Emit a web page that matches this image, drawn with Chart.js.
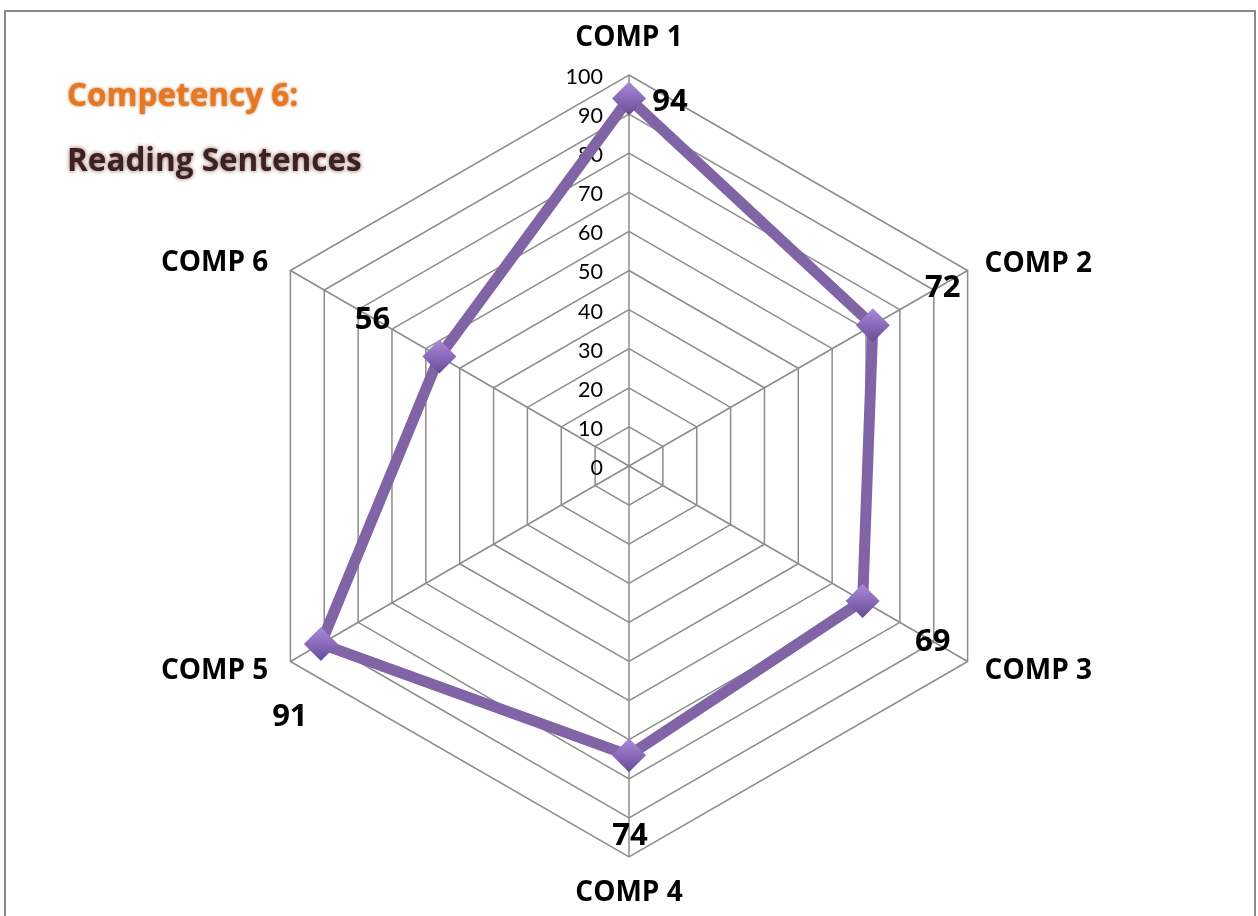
<!DOCTYPE html>
<html>
<head>
<meta charset="utf-8">
<script src="https://cdn.jsdelivr.net/npm/chart.js@4.4.1/dist/chart.umd.min.js"></script>
<style>
  html, body { margin: 0; padding: 0; background: #fff; }
  #wrap { position: relative; width: 1258px; height: 916px; }
  canvas { display: block; }
</style>
</head>
<body>
<div id="wrap"><canvas id="c" width="1258" height="916"></canvas></div>
<script>
// ---- data ----
const categories = ['COMP 1', 'COMP 2', 'COMP 3', 'COMP 4', 'COMP 5', 'COMP 6'];
const scores = [94, 72, 69, 74, 91, 56];
const tickValues = [0, 10, 20, 30, 40, 50, 60, 70, 80, 90, 100];
const titleLine1 = 'Competency 6:';
const titleLine2 = 'Reading Sentences';

// ---- styling / placement (pixels relative to anchors) ----
const catLabelOffsets = [
  { dx: 0, dy: -37, align: 'center' },
  { dx: 17, dy: -6, align: 'left' },
  { dx: 17, dy: 10, align: 'left' },
  { dx: 0, dy: 36, align: 'center' },
  { dx: -22, dy: 10, align: 'right' },
  { dx: -22, dy: -7, align: 'right' }
];
const valueLabelOffsets = [
  { dx: 41, dy: 4 },
  { dx: 70, dy: -37 },
  { dx: 70, dy: 41 },
  { dx: 1, dy: 81 },
  { dx: -31, dy: 73 },
  { dx: -67, dy: -36 }
];
const GRID = '#8c8c8c';
const LINE = '#8064a6';
const BFONT = '"Open Sans"';

const decorPlugin = {
  id: 'decor',
  beforeDraw(chart) {
    const ctx = chart.ctx;
    ctx.save();
    ctx.fillStyle = '#fff';
    ctx.fillRect(0, 0, chart.width, chart.height);
    ctx.strokeStyle = '#8a8a8a';
    ctx.lineWidth = 2;
    ctx.strokeRect(5, 11, 1250, 1000);
    ctx.restore();
  },
  beforeDatasetsDraw(chart) {
    const ctx = chart.ctx;
    const r = chart.scales.r;
    ctx.save();
    ctx.font = '21.5px Lato';
    ctx.fillStyle = '#000';
    ctx.textAlign = 'right';
    ctx.textBaseline = 'middle';
    tickValues.forEach(v => {
      const d = r.getDistanceFromCenterForValue(v);
      ctx.fillText(String(v), r.xCenter - 26, r.yCenter - d + 2);
    });
    ctx.font = 'bold 28px ' + BFONT;
    ctx.textBaseline = 'middle';
    categories.forEach((c, i) => {
      const p = r.getPointPosition(i, r.drawingArea);
      const o = catLabelOffsets[i];
      ctx.textAlign = o.align;
      ctx.fillText(c, p.x + o.dx, p.y + o.dy);
    });
    ctx.textAlign = 'left';
    ctx.textBaseline = 'alphabetic';
    ctx.font = 'bold 31.5px ' + BFONT;
    ctx.shadowColor = 'rgba(150,60,0,0.8)';
    ctx.shadowBlur = 3;
    ctx.fillStyle = '#e8771e';
    ctx.fillText(titleLine1, 67, 106);
    ctx.shadowColor = 'rgba(110,40,30,0.75)';
    ctx.shadowBlur = 4;
    ctx.fillStyle = '#3a2222';
    ctx.fillText(titleLine2, 67, 171);
    ctx.restore();
  },
  afterDatasetsDraw(chart) {
    const ctx = chart.ctx;
    const r = chart.scales.r;
    ctx.save();
    ctx.font = 'bold 31px ' + BFONT;
    ctx.fillStyle = '#000';
    ctx.textAlign = 'center';
    ctx.textBaseline = 'middle';
    scores.forEach((v, i) => {
      const p = r.getPointPositionForValue(i, v);
      const o = valueLabelOffsets[i];
      ctx.fillText(String(v), p.x + o.dx, p.y + o.dy);
    });
    ctx.restore();
  }
};

function markerFill(context) {
  const chart = context.chart;
  const r = chart.scales.r;
  if (!r || context.dataIndex === undefined) return '#8a6bb8';
  const p = r.getPointPositionForValue(context.dataIndex, scores[context.dataIndex]);
  const g = chart.ctx.createLinearGradient(p.x, p.y - 17, p.x, p.y + 17);
  g.addColorStop(0, '#a88ad6');
  g.addColorStop(0.5, '#8a6bbb');
  g.addColorStop(1, '#674a96');
  return g;
}

function build() {
  new Chart(document.getElementById('c'), {
    type: 'radar',
    data: {
      labels: categories,
      datasets: [{
        data: scores,
        borderColor: LINE,
        borderWidth: 11,
        backgroundColor: 'rgba(0,0,0,0)',
        fill: false,
        tension: 0,
        pointStyle: 'rectRot',
        pointRadius: 17,
        pointHoverRadius: 17,
        pointBorderWidth: 0,
        pointBorderColor: 'rgba(0,0,0,0)',
        pointBackgroundColor: markerFill
      }]
    },
    options: {
      responsive: false,
      animation: false,
      layout: { padding: { left: 238, right: 238, top: 75, bottom: 59 } },
      plugins: { legend: { display: false }, tooltip: { enabled: false } },
      scales: {
        r: {
          min: 0,
          max: 100,
          ticks: { stepSize: 10, display: false },
          grid: { color: GRID, lineWidth: 1.5 },
          angleLines: { color: GRID, lineWidth: 1.5 },
          pointLabels: { display: false }
        }
      }
    },
    plugins: [decorPlugin]
  });
}

Promise.all([
  document.fonts.load('bold 28px "Open Sans"'),
  document.fonts.load('21px Lato')
]).then(build, build);
</script>
</body>
</html>
